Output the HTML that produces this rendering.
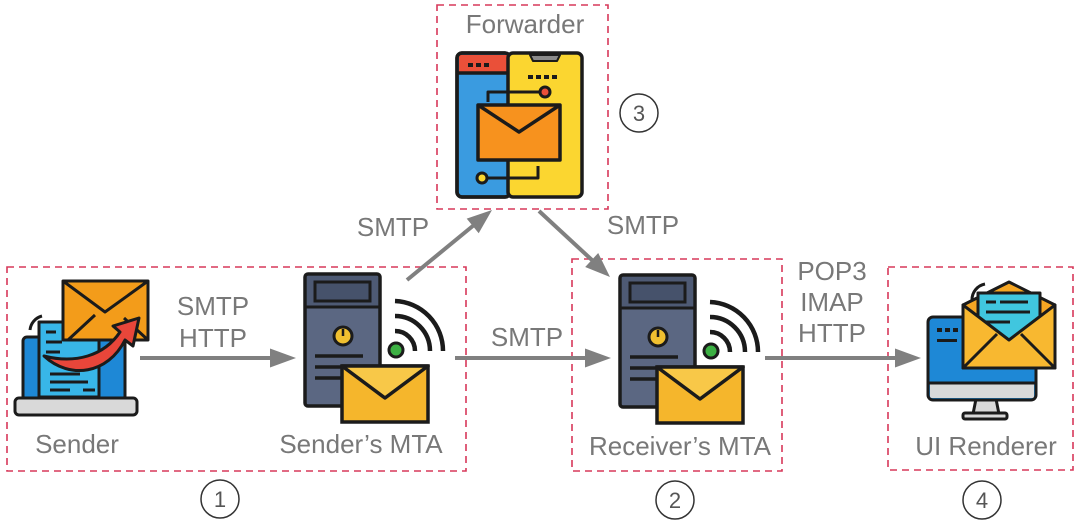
<!DOCTYPE html>
<html><head><meta charset="utf-8"><style>
html,body{margin:0;padding:0;background:#fff;}
svg{display:block;}
text{font-family:"Liberation Sans",Arial,sans-serif;}
</style></head><body>
<svg width="1080" height="520" viewBox="0 0 1080 520" xmlns="http://www.w3.org/2000/svg">
<defs>
<g id="server">
  <rect x="0" y="0" width="75" height="132" rx="3" fill="#5b6782" stroke="#1b1b1b" stroke-width="3.5"/>
  <rect x="2" y="2" width="71" height="31" fill="#4e5a74"/>
  <line x1="0" y1="33" x2="75" y2="33" stroke="#1b1b1b" stroke-width="3"/>
  <rect x="10" y="8" width="55" height="19" fill="#46526b" stroke="#1b1b1b" stroke-width="3"/>
  <circle cx="38" cy="62" r="9" fill="#f0c030" stroke="#1b1b1b" stroke-width="3"/>
  <line x1="38" y1="55" x2="38" y2="62" stroke="#1b1b1b" stroke-width="2.5"/>
  <line x1="10" y1="82" x2="58" y2="82" stroke="#1b1b1b" stroke-width="3.5"/>
  <line x1="10" y1="93" x2="40" y2="93" stroke="#1b1b1b" stroke-width="3.5"/>
  <line x1="10" y1="104" x2="40" y2="104" stroke="#1b1b1b" stroke-width="3.5"/>
  <path d="M90 27 A50 50 0 0 1 138 77" fill="none" stroke="#1b1b1b" stroke-width="4.5"/>
  <path d="M90 42 A35 35 0 0 1 125 77" fill="none" stroke="#1b1b1b" stroke-width="4.5"/>
  <path d="M90 57 A20 20 0 0 1 110 77" fill="none" stroke="#1b1b1b" stroke-width="4.5"/>
  <circle cx="91" cy="76" r="7" fill="#3cb043" stroke="#1b1b1b" stroke-width="3"/>
  <rect x="37" y="92" width="86" height="56" fill="#f5b62c" stroke="#1b1b1b" stroke-width="3.5"/>
  <path d="M37 92 L80 124 L123 92 Z" fill="#f8c848" stroke="#1b1b1b" stroke-width="3.5" stroke-linejoin="round"/>
</g>
</defs>

<!-- dashed boxes -->
<g fill="none" stroke="#d7385a" stroke-width="1.6" stroke-dasharray="7 5">
  <rect x="7" y="267" width="459" height="204"/>
  <rect x="437" y="5" width="171" height="204"/>
  <rect x="572" y="259" width="210" height="212"/>
  <rect x="888" y="267" width="185" height="203"/>
</g>

<!-- servers -->
<use href="#server" x="305" y="274"/>
<use href="#server" x="620" y="275"/>

<!-- Sender laptop -->
<g stroke="#1b1b1b" stroke-width="3" stroke-linejoin="round">
  <path d="M30 330 A16 16 0 0 1 42 316" fill="none" stroke-width="3"/>
  <rect x="23" y="337" width="102" height="63" rx="4" fill="#1e88d6"/>
  <rect x="39" y="322" width="60" height="75" fill="#38b6e8"/>
  <g stroke-width="3">
    <line x1="46" y1="332" x2="56" y2="332"/>
    <line x1="46" y1="342" x2="62" y2="342"/>
    <line x1="46" y1="352" x2="60" y2="352"/>
    <line x1="50" y1="374" x2="80" y2="374"/>
    <line x1="50" y1="382" x2="88" y2="382"/>
    <line x1="50" y1="390" x2="70" y2="390"/>
    <line x1="83" y1="390" x2="95" y2="390"/>
  </g>
  <rect x="15" y="398" width="122" height="17" rx="4" fill="#d9d9d9"/>
  <rect x="63" y="281" width="85" height="59" fill="#f39c1a"/>
  <path d="M63 281 L105 312 L148 281" fill="none"/>
  <path d="M68 340 L95 315 M148 340 L124 318" fill="none"/>
  <path d="M44 356 C70 380 108 374 125 340 L133 346 L139 318 L113 326 L120 332 C104 356 75 364 44 356 Z" fill="#e8463a" stroke-width="3"/>
</g>

<!-- Forwarder icon -->
<g stroke="#1b1b1b" stroke-width="3.5" stroke-linejoin="round">
  <rect x="457" y="53" width="53" height="144" rx="5" fill="#3a9be0"/>
  <path d="M459 55 H508 V73 H459 Z" fill="#ea5039" stroke="none"/>
  <rect x="457" y="53" width="53" height="144" rx="5" fill="none"/>
  <line x1="457" y1="73" x2="508" y2="73"/>
  <rect x="508" y="53" width="74" height="144" rx="5" fill="#fbd630"/>
  <path d="M530 55 H560 L557 61 H533 Z" fill="#8a8a8a" stroke-width="2"/>
  <g fill="#1b1b1b" stroke="none">
    <rect x="468" y="63" width="5" height="4"/><rect x="476" y="63" width="5" height="4"/><rect x="484" y="63" width="5" height="4"/>
    <rect x="528" y="75" width="5" height="4"/><rect x="536" y="75" width="5" height="4"/><rect x="544" y="75" width="5" height="4"/><rect x="552" y="75" width="5" height="4"/>
  </g>
  <path d="M488 102 V92 H539" fill="none" stroke-width="3"/>
  <circle cx="545" cy="92" r="5" fill="#ea5039" stroke-width="3"/>
  <rect x="478" y="105" width="82" height="55" fill="#f7921e"/>
  <path d="M478 105 L519 132 L560 105" fill="none"/>
  <path d="M488 178 H538 V166" fill="none" stroke-width="3"/>
  <circle cx="482" cy="178" r="5" fill="#fbd630" stroke-width="3"/>
</g>

<!-- UI Renderer icon -->
<g stroke="#1b1b1b" stroke-width="3" stroke-linejoin="round">
  <path d="M972 300 A16 16 0 0 1 985 284" fill="none"/>
  <polygon points="976,399 996,399 999,414 973,414" fill="#d9d9d9"/>
  <rect x="963" y="413" width="44" height="6" rx="2" fill="#d9d9d9"/>
  <rect x="928" y="317" width="108" height="83" rx="5" fill="#1e88d6"/>
  <path d="M930 383 H1034 V396 Q1034 398 1032 398 H932 Q930 398 930 396 Z" fill="#d9d9d9" stroke="none"/>
  <line x1="928" y1="383" x2="1036" y2="383"/>
  <g fill="#1b1b1b" stroke="none">
    <rect x="937" y="328" width="5" height="4"/><rect x="945" y="328" width="5" height="4"/><rect x="953" y="328" width="5" height="4"/>
    <rect x="937" y="339" width="20" height="3"/>
  </g>
  <path d="M963 305 L1009 282 L1055 305 L1055 368 L963 368 Z" fill="#f5a623"/>
  <rect x="978" y="293" width="62" height="47" fill="#40c6df"/>
  <g stroke-width="3"><line x1="986" y1="302" x2="996" y2="302"/><line x1="1000" y1="302" x2="1028" y2="302"/><line x1="986" y1="312" x2="1030" y2="312"/><line x1="986" y1="322" x2="1010" y2="322"/></g>
  <path d="M963 305 L1009 340 L1055 305 L1055 368 L963 368 Z" fill="#f8b830"/>
  <path d="M963 368 L997 334 M1055 368 L1021 334" fill="none"/>
</g>

<!-- arrows -->
<g stroke="#808080" stroke-width="4" fill="#808080">
  <line x1="140" y1="358" x2="273" y2="358"/>
  <polygon points="296,358 270,348.5 270,367.5" stroke="none"/>
  <line x1="455" y1="358" x2="588" y2="358"/>
  <polygon points="611,358 585,348.5 585,367.5" stroke="none"/>
  <line x1="765" y1="358" x2="898" y2="358"/>
  <polygon points="921,358 895,348.5 895,367.5" stroke="none"/>
  <line x1="407" y1="280" x2="474" y2="225"/>
  <polygon points="492,210 478.7,233.2 466.7,218.6" stroke="none"/>
  <line x1="539" y1="211" x2="593" y2="261"/>
  <polygon points="610,277 585.2,267 598.2,253" stroke="none"/>
</g>

<!-- labels -->
<g fill="#787878" font-size="26" text-anchor="middle">
  <text x="525" y="33">Forwarder</text>
  <text x="393" y="236">SMTP</text>
  <text x="643" y="234">SMTP</text>
  <text x="213" y="315">SMTP</text>
  <text x="213" y="347">HTTP</text>
  <text x="527" y="346">SMTP</text>
  <text x="832" y="280">POP3</text>
  <text x="832" y="311">IMAP</text>
  <text x="832" y="342">HTTP</text>
  <text x="77" y="453">Sender</text>
  <text x="361" y="453">Sender’s MTA</text>
  <text x="680" y="455">Receiver’s MTA</text>
  <text x="986" y="455">UI Renderer</text>
</g>

<!-- numbered circles -->
<g fill="none" stroke="#333" stroke-width="1.5">
  <circle cx="220" cy="499" r="19"/>
  <circle cx="675" cy="500" r="19"/>
  <circle cx="982" cy="500" r="19"/>
  <circle cx="639" cy="113" r="19"/>
</g>
<g fill="#555" font-size="22" text-anchor="middle">
  <text x="220" y="507">1</text>
  <text x="675" y="508">2</text>
  <text x="982" y="508">4</text>
  <text x="639" y="121">3</text>
</g>
</svg>
</body></html>
